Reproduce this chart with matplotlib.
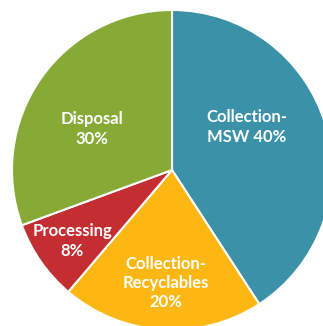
import matplotlib.pyplot as plt

# cost shares by stage
labels = ['Collection-\nMSW 40%', 'Collection-\nRecyclables\n20%', 'Processing\n8%', 'Disposal\n30%']
shares = [40, 20, 8, 30]
colors = ['#3A91A8', '#FDB713', '#C22E31', '#87AA37']
# label centres in pixel units
label_xy = [(247, 127), (166, 283), (72, 241), (92, 129)]

W, H = 323, 326
fig = plt.figure(figsize=(W / 100, H / 100), dpi=100)
ax = fig.add_axes([0, 0, 1, 1])

cx, cy, r = 172, H - 170, 160
ax.pie(shares, colors=colors, startangle=90, counterclock=False,
       center=(cx, cy), radius=r, frame=True,
       wedgeprops=dict(edgecolor='white', linewidth=1.5))
ax.set_xlim(0, W)
ax.set_ylim(0, H)
ax.axis('off')

for lab, (x, y) in zip(labels, label_xy):
    ax.text(x, H - y, lab, ha='center', va='center', color='white',
            fontsize=12, fontweight='bold', family='Lato', linespacing=1.25)

fig.savefig('out.png', dpi=100)
